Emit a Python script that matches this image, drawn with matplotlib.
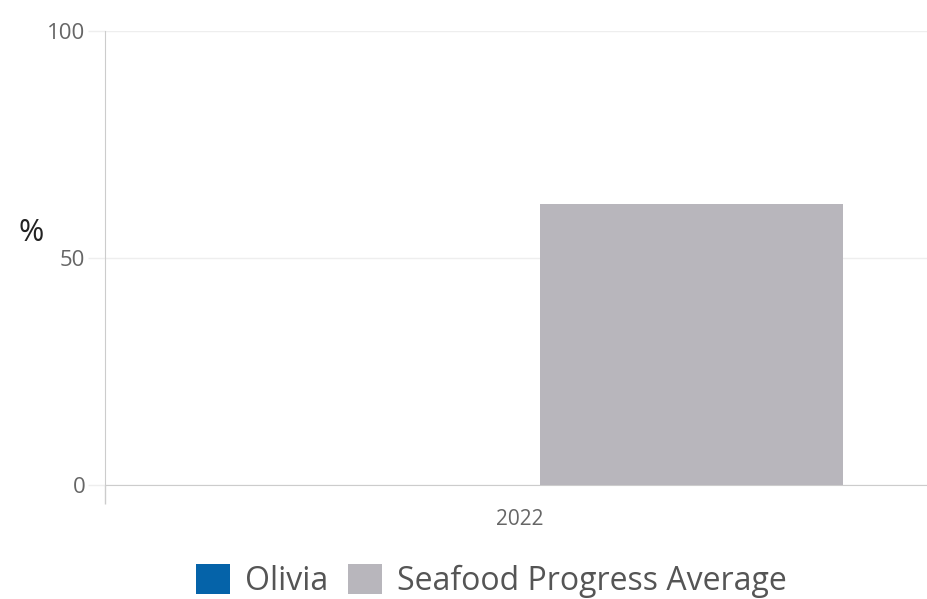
import matplotlib
matplotlib.use('Agg')
import matplotlib.pyplot as plt
import numpy as np

# data
years = ['2022']
olivia = [0]
seafood_avg = [62]
series_names = ['Olivia', 'Seafood Progress Average']
y_ticks = [0, 50, 100]

plt.rcParams['font.family'] = ['Open Sans', 'DejaVu Sans']

fig = plt.figure(figsize=(9.27, 5.99), dpi=100)
ax = fig.add_axes([105/927, 114/599, 830/927, 454/599])

x = np.arange(len(years))
w = 0.365
off = 0.2066
ax.bar(x - off, olivia, w, color='#0563a9', label=series_names[0], zorder=3)
ax.bar(x + off, seafood_avg, w, color='#b8b6bc', label=series_names[1], zorder=3)

ax.set_xlim(-0.5, len(years) - 0.5)
ax.set_ylim(0, 100)
ax.set_yticks(y_ticks)
ax.set_yticklabels([str(t) for t in y_ticks], fontsize=16, color='#666666')
ax.yaxis.grid(True, color='#eeeeee', linewidth=1, zorder=0)
ax.tick_params(axis='y', length=12.2, width=1, color='#eeeeee', pad=2)
ax.yaxis.get_major_ticks()[0].tick1line.set_color('#cccccc')

ax.set_xticks(x)
ax.set_xticklabels(years, fontsize=15, color='#666666')
ax.tick_params(axis='x', length=0, pad=17)
# category boundary tick, as in the reference
ax.set_xticks([-0.5], minor=True)
ax.tick_params(axis='x', which='minor', length=13.7, width=1, color='#cccccc')

for s in ['top', 'right']:
    ax.spines[s].set_visible(False)
ax.spines['left'].set_color('#cccccc')
ax.spines['bottom'].set_color('#cccccc')

ax.set_ylabel('%', rotation=0, fontsize=22, color='#222222', va='center', ha='center')
ax.yaxis.set_label_coords(-74/830, 0.555)

fig.legend(loc='center', bbox_to_anchor=(491/927, 1 - 581/599), ncol=2,
           frameon=False, fontsize=23, handlelength=1.06, handleheight=1.06,
           handletextpad=0.47, columnspacing=0.62, labelcolor='#555555',
           borderpad=0, borderaxespad=0)

fig.savefig('out.png', dpi=100)
